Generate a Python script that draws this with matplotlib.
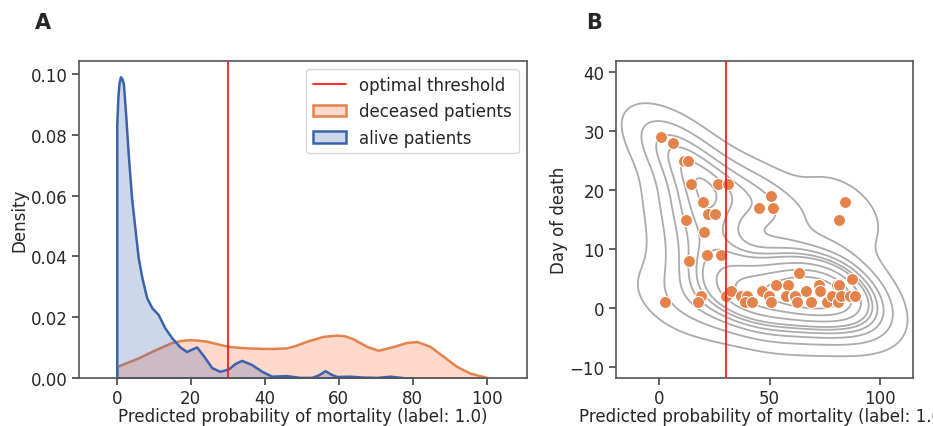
import matplotlib
matplotlib.use("Agg")
import matplotlib.pyplot as plt
import seaborn as sns
from matplotlib.lines import Line2D
from matplotlib.patches import Patch

sns.set_style("ticks")
plt.rcParams["font.family"] = ["DejaVu Sans"]
plt.rcParams["font.size"] = 12

# deceased patients: predicted probability (%) and day of death
deceased_prob = [0.5, 6, 11, 12.9, 14.4, 26.5, 31, 19.9, 21.9, 25, 12.2, 20.3, 21.5, 27.7,
                 13.6, 2.3, 19, 17.5, 30.2, 32.4, 36.8, 39.6, 38.9, 41.8, 45, 50.4, 51.4,
                 46.3, 49.8, 50.6, 53, 58.4, 57.3, 60.8, 61.5, 62.2, 63.2, 66.3, 68.6, 72.3,
                 72.9, 76.1, 78.4, 80.5, 81.5, 80.9, 82.1, 86.4, 88.7, 87.4, 84, 81.6]
deceased_day = [29, 28, 25, 25, 21, 21, 21, 18, 16, 16, 15, 13, 9, 9,
                8, 1, 2, 1, 2, 3, 2, 2, 1, 1, 17, 19, 17,
                3, 2, 1, 4, 4, 2, 2, 2, 1, 6, 3, 1, 4,
                3, 1, 2, 4, 4, 1, 2, 2, 2, 5, 18, 15]

# density curves
deceased_x = [0, 5.8, 10.4, 14.9, 17.1, 19.6, 21.6, 24.3, 27.0, 30.2, 35.1, 41.4, 45.9,
              48.5, 51.4, 55.8, 59.5, 61.5, 63.9, 67.6, 70.7, 74.8, 78.4, 81.2, 84.7,
              88.3, 91.9, 95.5, 100]
deceased_density = [0.0038, 0.0066, 0.0093, 0.0117, 0.0123, 0.0126, 0.0125, 0.0121, 0.0113,
                    0.0104, 0.0099, 0.0097, 0.0099, 0.0108, 0.0121, 0.0137, 0.0141, 0.0139,
                    0.0129, 0.0104, 0.0091, 0.0104, 0.0117, 0.0120, 0.0104, 0.0071, 0.0038,
                    0.0016, 0.0002]

alive_x = [0, 0.3, 0.6, 1.0, 1.4, 1.8, 2.4, 3.1, 4.0, 5.0, 5.8, 6.8, 8.1, 9.5, 11.2, 13.0,
           14.9, 17.1, 18.9, 20.2, 21.6, 23.4, 25.7, 27.9, 30.2, 32.0, 33.8, 36.5, 39.2,
           41.9, 45.9, 49.5, 52.7, 54.5, 56.3, 58.0, 59.5, 63.0, 66.6, 70.3, 73.9, 77.5, 80.2]
alive_density = [0.083, 0.0923, 0.097, 0.0991, 0.0985, 0.0967, 0.0868, 0.0737, 0.0593,
                 0.0483, 0.0396, 0.033, 0.0264, 0.0231, 0.0209, 0.0165, 0.0132, 0.0102,
                 0.0087, 0.0095, 0.0102, 0.0074, 0.0034, 0.0022, 0.0030, 0.0048, 0.0058,
                 0.0044, 0.0022, 0.0006, 0.0008, 0.0002, 0.0002, 0.0010, 0.0024, 0.0012,
                 0.0005, 0.0006, 0.0003, 0.0002, 0.0006, 0.0001, 0.0]

threshold = 30

orange = "#E4824C"
blue = "#3B62AD"
red = "#FF1A1A"
orange_fill = (1.0, 0.5, 0.35, 0.3)
blue_fill = (0.23, 0.38, 0.68, 0.25)

fig = plt.figure(figsize=(9.33, 4.27), dpi=100)
axA = fig.add_axes([0.0847, 0.1124, 0.4801, 0.7424])
axB = fig.add_axes([0.660, 0.1131, 0.3182, 0.7424])

# Panel A
axA.fill_between(deceased_x, deceased_density, facecolor=orange_fill,
                 edgecolor=orange, linewidth=1.8, joinstyle="round")
axA.fill_between(alive_x, alive_density, facecolor=blue_fill,
                 edgecolor=blue, linewidth=1.8, joinstyle="round")
axA.axvline(threshold, color=red, linewidth=1.3)
axA.set_xlim(-10.2, 110.9)
axA.set_ylim(0, 0.1043)
axA.set_xticks([0, 20, 40, 60, 80, 100])
axA.set_yticks([0, 0.02, 0.04, 0.06, 0.08, 0.10])
axA.set_yticklabels(["0.00", "0.02", "0.04", "0.06", "0.08", "0.10"])
axA.set_xlabel("Predicted probability of mortality (label: 1.0)", labelpad=0)
axA.set_ylabel("Density", labelpad=2)
handles = [Line2D([], [], color=red, linewidth=1.3),
           Patch(facecolor=orange_fill, edgecolor=orange, linewidth=1.8),
           Patch(facecolor=blue_fill, edgecolor=blue, linewidth=1.8)]
axA.legend(handles, ["optimal threshold", "deceased patients", "alive patients"],
           loc="upper right", fontsize=12)

# Panel B
sns.kdeplot(x=deceased_prob, y=deceased_day, color="#ABABAB", linewidths=1.3, ax=axB)
sns.scatterplot(x=deceased_prob, y=deceased_day, color=orange, s=75, edgecolor="white",
                linewidth=0.8, ax=axB, zorder=3)
axB.axvline(threshold, color=red, linewidth=1.3, zorder=4)
axB.set_xlim(-19.8, 114.8)
axB.set_ylim(-11.8, 42)
axB.set_xticks([0, 50, 100])
axB.set_yticks([-10, 0, 10, 20, 30, 40])
axB.set_xlabel("Predicted probability of mortality (label: 1.0)", labelpad=0)
axB.set_ylabel("Day of death", labelpad=1)

for ax in (axA, axB):
    for s in ax.spines.values():
        s.set_color("#555555")
        s.set_linewidth(1.2)
    ax.tick_params(labelsize=12, length=5, width=1.1, color="#333333", pad=3)

fig.text(0.037, 0.945, "A", fontsize=15, fontweight="bold", va="center")
fig.text(0.628, 0.945, "B", fontsize=15, fontweight="bold", va="center")

fig.savefig("out.png", dpi=100)
